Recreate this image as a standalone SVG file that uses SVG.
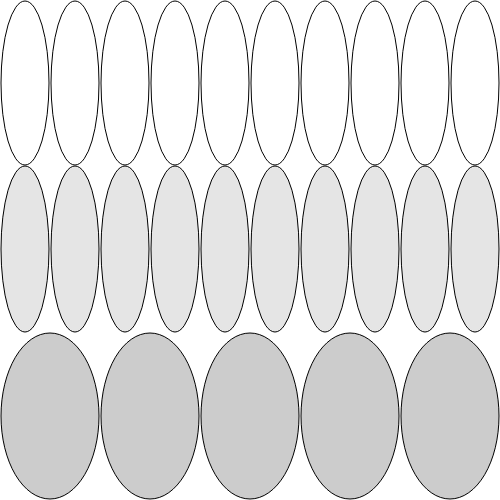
<svg xmlns="http://www.w3.org/2000/svg" width="500" height="500" viewBox="0 0 500 500">
<style>
ellipse{stroke:#000;stroke-width:1}
.r1{fill:#fff}
.r2{fill:#e5e5e5}
.r3{fill:#cccccc}
</style>
<rect width="500" height="500" fill="#fff"/>
<g id="row1">
<ellipse class="r1" cx="25" cy="83" rx="24" ry="82"/>
<ellipse class="r1" cx="75" cy="83" rx="24" ry="82"/>
<ellipse class="r1" cx="125" cy="83" rx="24" ry="82"/>
<ellipse class="r1" cx="175" cy="83" rx="24" ry="82"/>
<ellipse class="r1" cx="225" cy="83" rx="24" ry="82"/>
<ellipse class="r1" cx="275" cy="83" rx="24" ry="82"/>
<ellipse class="r1" cx="325" cy="83" rx="24" ry="82"/>
<ellipse class="r1" cx="375" cy="83" rx="24" ry="82"/>
<ellipse class="r1" cx="425" cy="83" rx="24" ry="82"/>
<ellipse class="r1" cx="475" cy="83" rx="24" ry="82"/>
</g>
<g id="row2">
<ellipse class="r2" cx="25" cy="249" rx="24" ry="83"/>
<ellipse class="r2" cx="75" cy="249" rx="24" ry="83"/>
<ellipse class="r2" cx="125" cy="249" rx="24" ry="83"/>
<ellipse class="r2" cx="175" cy="249" rx="24" ry="83"/>
<ellipse class="r2" cx="225" cy="249" rx="24" ry="83"/>
<ellipse class="r2" cx="275" cy="249" rx="24" ry="83"/>
<ellipse class="r2" cx="325" cy="249" rx="24" ry="83"/>
<ellipse class="r2" cx="375" cy="249" rx="24" ry="83"/>
<ellipse class="r2" cx="425" cy="249" rx="24" ry="83"/>
<ellipse class="r2" cx="475" cy="249" rx="24" ry="83"/>
</g>
<g id="row3">
<ellipse class="r3" cx="50" cy="416" rx="49" ry="83"/>
<ellipse class="r3" cx="150" cy="416" rx="49" ry="83"/>
<ellipse class="r3" cx="250" cy="416" rx="49" ry="83"/>
<ellipse class="r3" cx="350" cy="416" rx="49" ry="83"/>
<ellipse class="r3" cx="450" cy="416" rx="49" ry="83"/>
</g>
</svg>
